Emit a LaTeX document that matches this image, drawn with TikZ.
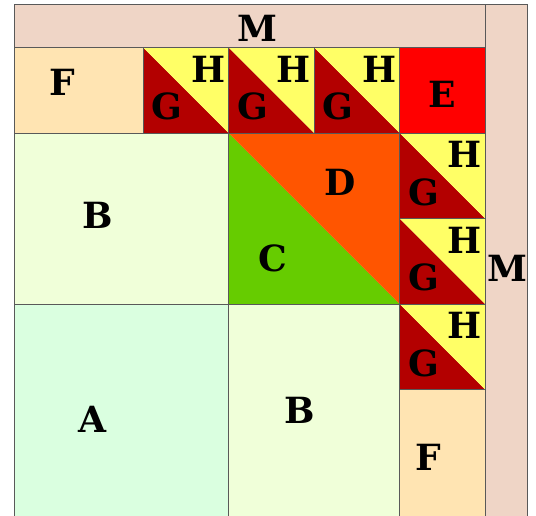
\documentclass[tikz,border=0pt]{standalone}
\usepackage{fontspec}
\setmainfont{DejaVu Serif}
\definecolor{bandM}{HTML}{EFD5C6}
\definecolor{fillF}{HTML}{FFE4B2}
\definecolor{fillB}{HTML}{F0FFD9}
\definecolor{fillA}{HTML}{DAFFE0}
\definecolor{fillG}{HTML}{B30000}
\definecolor{fillH}{HTML}{FFFF66}
\definecolor{fillE}{HTML}{FF0000}
\definecolor{fillD}{HTML}{FF5500}
\definecolor{fillC}{HTML}{66CC00}
\begin{document}
\begin{tikzpicture}[x=1.5cm, y=1.5cm,
  cell/.style={draw=black!65, line width=0.5pt},
  lbl/.style={font=\fontsize{18}{20}\selectfont\bfseries}]
\useasboundingbox (-0.175,0.023) rectangle (6.094,6.058);
\clip (-0.175,0.023) rectangle (6.094,6.058);
% Dải M trên và bên phải
\filldraw[cell, fill=bandM] (0,5.5) rectangle (5.5,6);
\filldraw[cell, fill=bandM] (5.5,-0.5) rectangle (6,6);
\node[lbl] (Mtop) at (2.84,5.73) {M};
\node[lbl] (Mright) at (5.76,2.92) {M};
% Hàng trên: F và E
\filldraw[cell, fill=fillF] (0,4.5) rectangle (1.5,5.5);
\node[lbl] (Ftop) at (0.55,5.1) {F};
\filldraw[cell, fill=fillE] (4.5,4.5) rectangle (5.5,5.5);
\node[lbl] (E) at (5.0,4.95) {E};
% Các khối B và A
\filldraw[cell, fill=fillB] (0,2.5) rectangle (2.5,4.5);
\node[lbl] (Btop) at (0.97,3.54) {B};
\filldraw[cell, fill=fillA] (0,-0.5) rectangle (2.5,2.5);
\node[lbl] (A) at (0.91,1.15) {A};
\filldraw[cell, fill=fillB] (2.5,-0.5) rectangle (4.5,2.5);
\node[lbl] (Bbot) at (3.33,1.26) {B};
\filldraw[cell, fill=fillF] (4.5,-0.5) rectangle (5.5,1.5);
\node[lbl] (Fbot) at (4.83,0.71) {F};
% Hình vuông chia đôi C / D
\fill[fillC] (2.5,2.5) -- (2.5,4.5) -- (4.5,2.5) -- cycle;
\fill[fillD] (2.5,4.5) -- (4.5,4.5) -- (4.5,2.5) -- cycle;
\draw[cell] (2.5,2.5) rectangle (4.5,4.5);
\node[lbl] (D) at (3.8,3.93) {D};
\node[lbl] (C) at (3.02,3.04) {C};
% Các ô tam giác G / H
\foreach \x/\y [count=\i] in {1.5/4.5, 2.5/4.5, 3.5/4.5, 4.5/3.5, 4.5/2.5, 4.5/1.5} {
  \fill[fillG] (\x,\y) -- (\x,\y+1) -- (\x+1,\y) -- cycle;
  \fill[fillH] (\x,\y+1) -- (\x+1,\y+1) -- (\x+1,\y) -- cycle;
  \draw[cell] (\x,\y) rectangle (\x+1,\y+1);
  \node[lbl] (G\i) at (\x+0.28,\y+0.31) {G};
  \node[lbl] (H\i) at (\x+0.76,\y+0.75) {H};
}
\end{tikzpicture}
\end{document}
